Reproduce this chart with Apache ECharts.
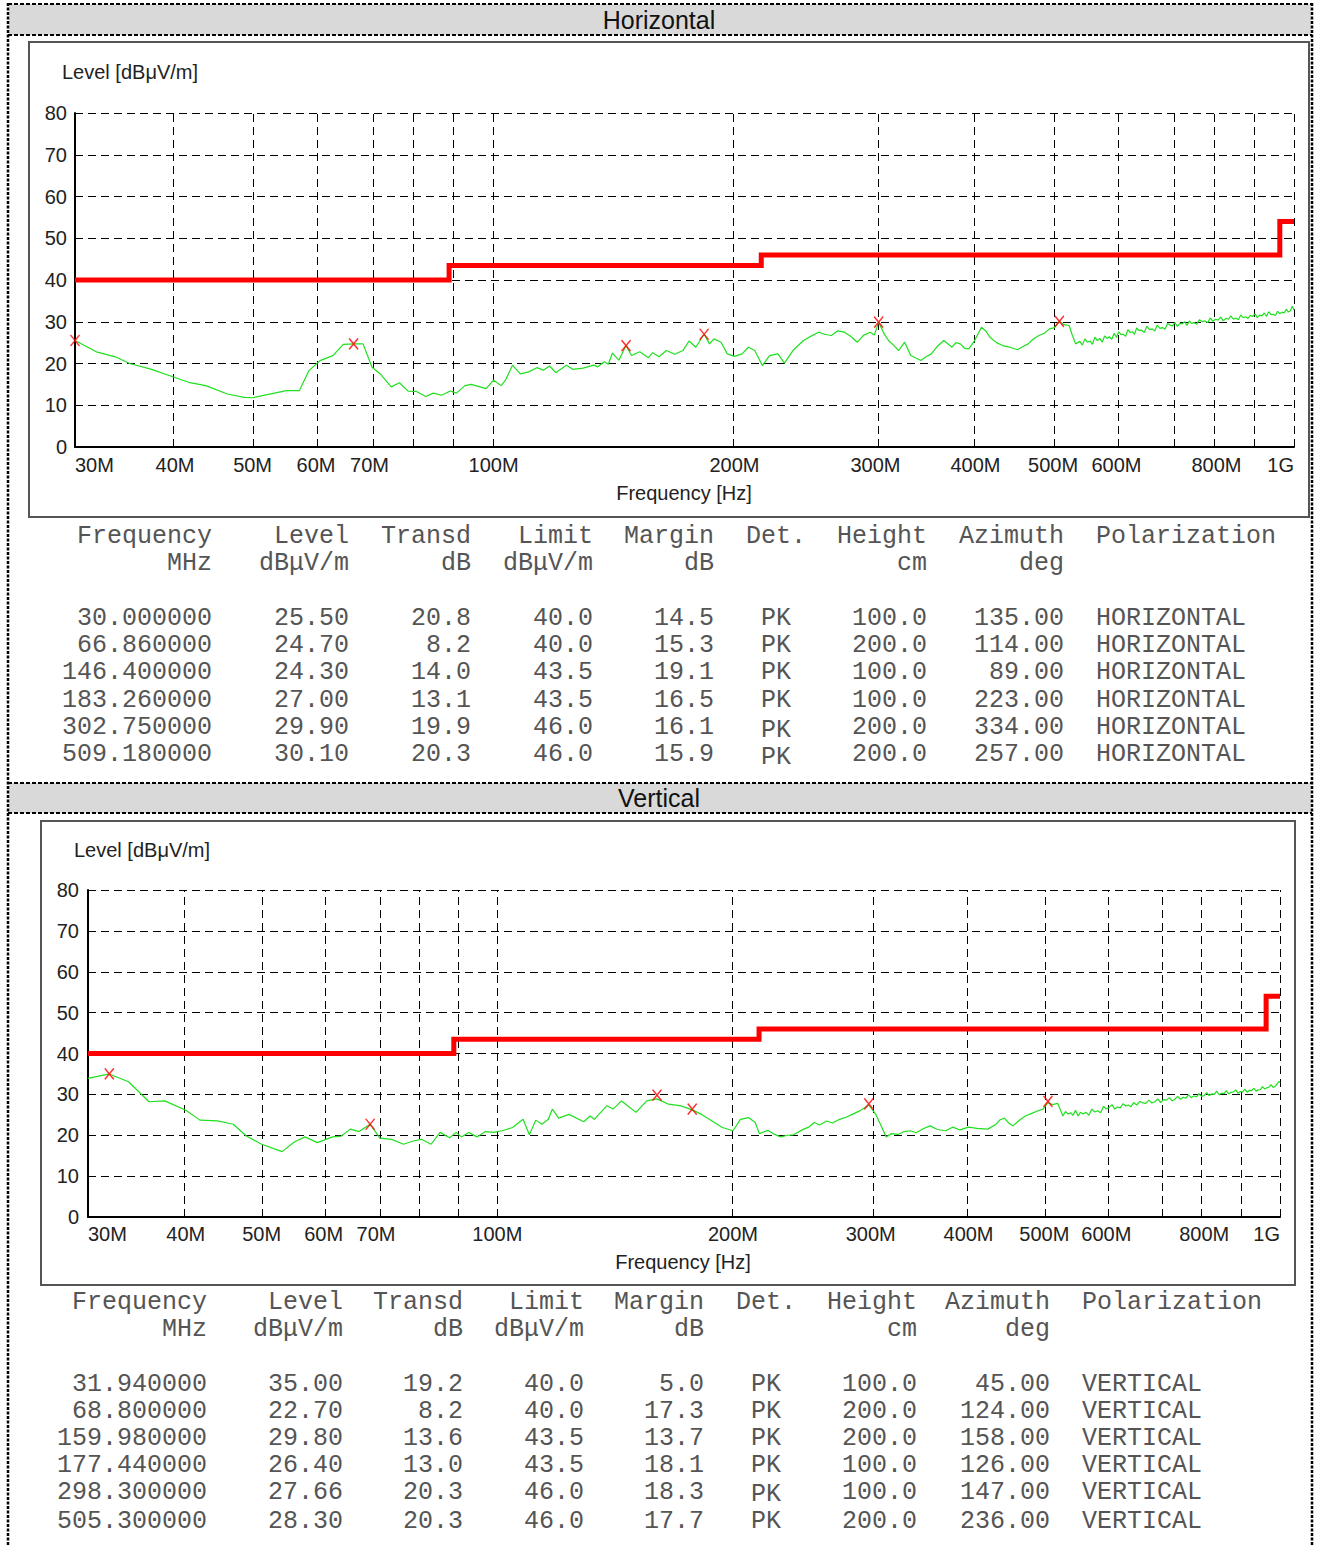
<!DOCTYPE html>
<html><head><meta charset="utf-8">
<script src="https://cdn.jsdelivr.net/npm/echarts@6/dist/echarts.min.js"></script>
<style>html,body{margin:0;padding:0;background:#fff}#c{width:1318px;height:1546px}</style>
</head><body><div id="c"></div>
<script>
// ---------- axis ticks ----------
const labelFreqs = [30, 40, 50, 60, 70, 100, 200, 300, 400, 500, 600, 800, 1000];
const gridFreqs = [40, 50, 60, 70, 80, 90, 100, 200, 300, 400, 500, 600, 700, 800, 900, 1000];
const levelMin = 0, levelMax = 80, levelStep = 10;

// ---------- limit line (dBuV/m) ----------
const limitFreq = [30, 88, 88, 216, 216, 960, 960, 1000];
const limitLevel = [40, 40, 43.5, 43.5, 46, 46, 54, 54];

// ---------- Horizontal trace ----------
const hTraceFreq = [30,31.9,33.7,35.1,37.4,39.9,41.6,43.7,46.5,48.8,50,55.1,57.2,58.8,60.7,63,64.9,66.9,68.7,70.5,72.2,74.5,76.3,78.2,80.1,82.3,84.1,86.1,88.3,89.9,92.1,93.8,97.9,100,102.2,103.5,105.6,108,110.6,113.3,115.4,117.5,119.6,123.3,125.6,129.4,133.4,135,137.5,139.1,140.8,143.4,146.4,148.7,152.3,156.1,158,161,164.4,168.4,172.4,175.5,178.9,183.3,186.1,188.5,192.4,195.9,200,204.4,208.2,212,216.7,221.2,226.6,230.9,236.6,243.9,249,254.8,259,264.3,269,274.4,279,284.8,290,295.7,299,302.75,307,311.5,316,320.6,326.3,332.1,337,342,347,352.3,358,365.2,370,374,378,383,388,392.4,399,407,412,417,425,432.5,440,451.4,458,465.5,472,480,487,495,502,509.18,516,523.7,528,533.5,
  540,544,548,552,556,560,564,568,572,576,580,584,588,592,596,600,604,608,612,616,620,624,628,632,636,640,645,650,655,660,665,670,675,680,685,690,695,700,705,710,715,720,725,730,735,740,745,750,756,762,768,774,780,786,792,798,804,810,816,822,828,834,840,846,852,858,864,870,876,882,888,894,900,906,912,918,924,930,936,942,948,954,960,966,972,978,984,990,995,1000];
const hTraceLevel = [25.5,22.8,21.6,20.0,18.6,16.7,15.5,14.7,12.7,11.9,11.8,13.5,13.5,18.3,20.7,21.9,24.6,24.7,24.7,19.1,17.5,14.4,15.4,13.4,13.3,12.1,12.9,12.4,13.4,12.9,14.7,15.0,14.0,16.0,14.7,16.0,19.6,17.5,18.0,19.0,18.4,19.4,17.8,19.6,18.6,18.9,19.6,19.2,20.4,19.8,22.5,20.8,24.3,21.9,22.8,21.4,22.6,21.6,23.1,22.2,23.1,25.4,23.9,27.0,24.7,25.9,25.1,22.3,21.7,22.3,23.9,23.1,19.5,21.9,22.3,20.1,23.1,25.5,26.5,27.5,27.0,26.7,27.8,27.5,26.6,25.1,26.8,27.5,26.8,29.9,27.4,25.5,24.4,23.1,25.1,21.9,21.3,20.7,21.6,22.3,24.0,25.5,24.6,23.9,25.0,24.7,23.6,23.5,25.5,28.7,27.8,26.3,25.0,24.3,24.0,23.3,24.0,24.7,25.8,26.7,27.2,28.3,28.6,30.1,29.3,29.1,27.0,24.7,
  25.3,24.4,25.9,25.1,25.4,24.6,26.3,25.5,26.0,25.1,26.6,26.0,26.4,25.8,27.2,26.3,27.6,26.9,27.0,26.5,28.1,27.4,27.6,27.0,28.5,27.9,28.0,27.4,28.9,28.1,28.3,27.8,29.2,28.4,28.6,28.2,29.6,29.2,29.0,29.8,28.9,29.6,29.5,30.0,29.1,30.2,29.6,29.8,29.4,30.5,30.0,30.2,29.8,30.9,30.1,30.6,30.4,31.1,30.2,30.8,30.6,31.4,30.6,30.9,30.5,31.6,31.0,31.2,30.8,31.5,31.3,31.9,31.0,31.6,31.4,32.1,31.3,32.4,31.7,31.8,31.5,32.5,31.9,32.3,32.1,33.0,32.3,32.7,33.7,32.8];

// ---------- Vertical trace ----------
const vTraceFreq = [30,31.94,32.4,33.8,35.9,37.6,40,41.7,43.9,46.0,47.8,50,53.1,55.1,56.8,58.9,61.6,63.2,64.9,66.6,68.8,70.8,73.3,75.9,78.1,80,82.3,84.5,86.9,88.6,90,91.9,94.2,96.6,98.9,101.4,104.6,107.9,109.9,112,114,116.2,117.6,119.8,123.5,129,131.4,133,138,140.6,144.1,146.7,150.4,155.2,159.98,165.5,171.7,177.44,182.4,188.1,193.9,200,204.5,209.6,213.6,216.2,221.6,225,230.1,235,238.9,246.3,250,254.1,258,263.7,268,273.8,279,284.1,290,295,298.3,304.5,309,314,319,325.3,331,337,343,350,357.3,365,374.1,382,390,400,410,423.3,433.9,439,444.7,450,455.8,464,472.9,481,490.6,498,505.3,512,
  520,524,528,532,536,540,544,548,552,556,560,565,570,575,580,585,590,595,600,605,610,615,620,625,630,635,640,645,650,656,662,668,674,680,686,692,698,704,710,716,722,728,734,740,746,752,758,764,770,776,782,788,794,800,806,812,818,824,830,836,842,848,854,860,866,872,878,884,890,896,902,908,914,920,926,932,938,944,950,956,962,968,974,980,986,992,997,1000];
const vTraceLevel = [33.9,35.0,34.5,33.1,28.2,28.4,26.1,23.7,23.5,22.7,19.8,17.8,16.0,18.4,19.6,18.2,19.6,19.8,21.5,20.9,22.7,19.3,19.0,17.8,18.6,19.0,17.8,20.7,19.4,20.7,19.6,20.7,19.6,20.9,20.7,21.1,21.9,23.9,20.1,23.7,22.7,23.9,26.4,24.2,25.1,23.3,24.7,23.9,27.2,26.4,28.4,27.2,25.6,28.4,28.9,27.6,27.2,26.2,25.1,23.5,21.9,21.1,23.9,24.3,23.1,20.4,21.2,20.4,19.6,20.0,20.1,21.5,22.0,23.1,22.5,23.5,23.0,23.9,24.4,25.1,25.9,26.8,27.4,25.1,22.5,19.6,20.4,20.2,20.9,21.1,20.6,21.6,22.3,21.4,21.1,22.0,21.3,22.0,21.7,21.5,22.7,23.8,24.2,23.0,22.3,23.6,24.7,25.3,26.0,26.4,28.0,27.5,
  27.8,26.3,24.7,25.8,25.2,25.5,24.9,26.1,24.7,25.6,25.2,25.6,24.9,26.4,25.7,26.0,25.5,27.1,26.4,26.8,27.5,26.4,26.9,26.7,27.7,27.2,27.4,27.0,28.0,27.4,28.3,27.9,27.8,28.6,27.9,28.2,28.9,28.0,28.7,28.6,29.2,28.4,28.8,29.5,28.8,29.3,29.1,29.9,29.2,29.6,29.4,30.2,29.5,29.7,30.4,29.7,30.1,30.0,30.8,29.9,30.3,30.2,30.9,30.1,30.5,30.6,31.1,30.3,30.7,30.6,31.3,30.5,31.0,30.9,31.5,30.8,31.1,31.2,31.9,31.3,31.6,31.8,32.4,31.7,32.0,32.6,33.2,32.9];

// ---------- Horizontal final results ----------
const hFreq = [30.000000, 66.860000, 146.400000, 183.260000, 302.750000, 509.180000];
const hLevel = [25.50, 24.70, 24.30, 27.00, 29.90, 30.10];
const hTransd = [20.8, 8.2, 14.0, 13.1, 19.9, 20.3];
const hLimit = [40.0, 40.0, 43.5, 43.5, 46.0, 46.0];
const hMargin = [14.5, 15.3, 19.1, 16.5, 16.1, 15.9];
const hDet = ['PK', 'PK', 'PK', 'PK', 'PK', 'PK'];
const hHeight = [100.0, 200.0, 100.0, 100.0, 200.0, 200.0];
const hAzimuth = [135.00, 114.00, 89.00, 223.00, 334.00, 257.00];
const hPol = ['HORIZONTAL', 'HORIZONTAL', 'HORIZONTAL', 'HORIZONTAL', 'HORIZONTAL', 'HORIZONTAL'];

// ---------- Vertical final results ----------
const vFreq = [31.940000, 68.800000, 159.980000, 177.440000, 298.300000, 505.300000];
const vLevel = [35.00, 22.70, 29.80, 26.40, 27.66, 28.30];
const vTransd = [19.2, 8.2, 13.6, 13.0, 20.3, 20.3];
const vLimit = [40.0, 40.0, 43.5, 43.5, 46.0, 46.0];
const vMargin = [5.0, 17.3, 13.7, 18.1, 18.3, 17.7];
const vDet = ['PK', 'PK', 'PK', 'PK', 'PK', 'PK'];
const vHeight = [100.0, 200.0, 200.0, 100.0, 100.0, 200.0];
const vAzimuth = [45.00, 124.00, 158.00, 126.00, 147.00, 236.00];
const vPol = ['VERTICAL', 'VERTICAL', 'VERTICAL', 'VERTICAL', 'VERTICAL', 'VERTICAL'];

const headRow1 = ['Frequency', 'Level', 'Transd', 'Limit', 'Margin', 'Det.', 'Height', 'Azimuth', 'Polarization'];
const headRow2 = ['MHz', 'dB\u03bcV/m', 'dB', 'dB\u03bcV/m', 'dB', '', 'cm', 'deg', ''];

// ---------- build ----------
const LOG = v => Math.log10(v);
const pairs = (fs, ls) => fs.map((f, i) => [LOG(f), ls[i]]);
const fmtFreq = v => { const f = Math.round(Math.pow(10, v)); return f >= 1000 ? (f / 1000) + 'G' : f + 'M'; };
const SANS = '"Liberation Sans", Arial, sans-serif';
const MONO = '"Liberation Mono", "Courier New", monospace';
const TABLE_COLOR = '#555';

const panels = [
  { grid: { left: 75, top: 113, width: 1219, height: 334 }, trace: [hTraceFreq, hTraceLevel], marks: [hFreq, hLevel], xMargin: 8, yMargin: 8 },
  { grid: { left: 88, top: 890, width: 1192, height: 327 }, trace: [vTraceFreq, vTraceLevel], marks: [vFreq, vLevel], xMargin: 7, yMargin: 9 }
];

const grids = [], xAxes = [], yAxes = [], series = [];
panels.forEach((p, i) => {
  grids.push(Object.assign({ containLabel: false, outerBoundsMode: 'none', show: false }, p.grid));
  xAxes.push({
    gridIndex: i, type: 'value', min: LOG(labelFreqs[0]), max: LOG(labelFreqs[labelFreqs.length - 1]),
    axisLine: { show: true, onZero: false, lineStyle: { color: '#000', width: 2 } },
    axisTick: { show: false }, splitLine: { show: false },
    axisLabel: {
      customValues: labelFreqs.map(LOG), formatter: fmtFreq,
      fontFamily: SANS, fontSize: 20, color: '#222', margin: p.xMargin,
      alignMinLabel: 'left', alignMaxLabel: 'right', hideOverlap: false
    }
  });
  yAxes.push({
    gridIndex: i, type: 'value', min: levelMin, max: levelMax, interval: levelStep,
    axisLine: { show: true, lineStyle: { color: '#000', width: 2 } },
    axisTick: { show: false },
    splitLine: { show: true, lineStyle: { color: '#000', width: 1, type: [8, 5] } },
    axisLabel: { fontFamily: SANS, fontSize: 20, color: '#222', margin: p.yMargin }
  });
  series.push({
    type: 'line', xAxisIndex: i, yAxisIndex: i, z: 3, clip: false, silent: true,
    data: pairs(limitFreq, limitLevel), symbol: 'none',
    lineStyle: { color: '#ff0000', width: 5, join: 'miter' }
  });
  series.push({
    type: 'line', xAxisIndex: i, yAxisIndex: i, z: 4, silent: true,
    data: pairs(p.trace[0], p.trace[1]), symbol: 'none',
    lineStyle: { color: '#1fe01f', width: 1.2 },
    markLine: {
      silent: true, symbol: 'none', z: 1, animation: false,
      label: { show: false },
      lineStyle: { color: '#000', width: 1, type: [8, 5] },
      data: gridFreqs.map(f => ({ xAxis: LOG(f) }))
    }
  });
  series.push({
    type: 'scatter', xAxisIndex: i, yAxisIndex: i, z: 5, silent: true,
    data: pairs(p.marks[0], p.marks[1]),
    symbol: 'path://M0,0L8,10M8,0L0,10', symbolSize: [9, 11],
    itemStyle: { color: 'rgba(0,0,0,0)', borderColor: '#ff0000', borderWidth: 1.5 }
  });
});

// ---------- graphic: frames, headers, tables ----------
const g = [];
const dashed = { stroke: '#000', lineWidth: 2, lineDash: [4, 2] };
g.push({ type: 'line', shape: { x1: 8, y1: 3, x2: 8, y2: 1546 }, style: { stroke: '#000', lineWidth: 2.5, lineDash: [3, 1.5] } });
g.push({ type: 'line', shape: { x1: 1312, y1: 3, x2: 1312, y2: 1546 }, style: { stroke: '#000', lineWidth: 2.5, lineDash: [3, 1.5] } });
function band(y0, y1, label) {
  g.push({ type: 'rect', shape: { x: 9, y: y0, width: 1302, height: y1 - y0 }, style: { fill: '#d9d9d9' }, z: -1 });
  g.push({ type: 'line', shape: { x1: 8, y1: y0, x2: 1312, y2: y0 }, style: dashed });
  g.push({ type: 'line', shape: { x1: 8, y1: y1, x2: 1312, y2: y1 }, style: dashed });
  g.push({ type: 'text', x: 659, y: (y0 + y1) / 2, style: { text: label, font: '25px ' + SANS, fill: '#111', align: 'center', verticalAlign: 'middle' } });
}
band(4, 35, 'Horizontal');
band(783, 813, 'Vertical');
g.push({ type: 'rect', shape: { x: 29, y: 42, width: 1280, height: 475 }, style: { fill: 'none', stroke: '#555', lineWidth: 2 } });
g.push({ type: 'rect', shape: { x: 41, y: 821, width: 1254, height: 464 }, style: { fill: 'none', stroke: '#555', lineWidth: 2 } });
function txt(x, y, s, font, align) {
  g.push({ type: 'text', x: x, y: y, style: { text: s, font: font, fill: '#222', align: align || 'left', verticalAlign: 'middle' } });
}
txt(62, 72, 'Level [dB\u03bcV/m]', '20px ' + SANS);
txt(684, 493, 'Frequency [Hz]', '20px ' + SANS, 'center');
txt(74, 850, 'Level [dB\u03bcV/m]', '20px ' + SANS);
txt(683, 1262, 'Frequency [Hz]', '20px ' + SANS, 'center');

function table(cols, headY, rowY, d) {
  const font = '25px ' + MONO;
  const keys = ['freq', 'level', 'transd', 'limit', 'margin', 'det', 'height', 'azimuth', 'pol'];
  const leftKeys = { det: 1, pol: 1 };
  const put = (k, y, s) => g.push({ type: 'text', x: cols[k], y: y, style: { text: s, font: font, fill: TABLE_COLOR, align: leftKeys[k] ? 'left' : 'right', verticalAlign: 'middle' } });
  keys.forEach((k, j) => { put(k, headY[0], headRow1[j]); if (headRow2[j]) put(k, headY[1], headRow2[j]); });
  d.freq.forEach((f, r) => {
    const y = rowY[r];
    put('freq', y, f.toFixed(6));
    put('level', y, d.level[r].toFixed(2));
    put('transd', y, d.transd[r].toFixed(1));
    put('limit', y, d.limit[r].toFixed(1));
    put('margin', y, d.margin[r].toFixed(1));
    g.push({ type: 'text', x: cols.det + 15, y: y + d.detDy[r], style: { text: d.det[r], font: font, fill: TABLE_COLOR, align: 'left', verticalAlign: 'middle' } });
    put('height', y, d.height[r].toFixed(1));
    put('azimuth', y, d.azimuth[r].toFixed(2));
    put('pol', y, d.pol[r]);
  });
}
table({ freq: 212, level: 349, transd: 471, limit: 593, margin: 714, det: 746, height: 927, azimuth: 1064, pol: 1096 },
  [536, 563], [618, 645, 672, 700, 727, 754],
  { freq: hFreq, level: hLevel, transd: hTransd, limit: hLimit, margin: hMargin, det: hDet, detDy: [0, 0, 0, 0, 3, 3], height: hHeight, azimuth: hAzimuth, pol: hPol });
table({ freq: 207, level: 343, transd: 463, limit: 584, margin: 704, det: 736, height: 917, azimuth: 1050, pol: 1082 },
  [1302, 1329], [1384, 1411, 1438, 1465, 1492, 1521],
  { freq: vFreq, level: vLevel, transd: vTransd, limit: vLimit, margin: vMargin, det: vDet, detDy: [0, 0, 0, 0, 2, 0], height: vHeight, azimuth: vAzimuth, pol: vPol });

const chart = echarts.init(document.getElementById('c'), null, { renderer: 'svg', width: 1318, height: 1546 });
chart.setOption({
  animation: false,
  backgroundColor: '#ffffff',
  textStyle: { fontFamily: SANS },
  grid: grids, xAxis: xAxes, yAxis: yAxes, series: series,
  graphic: { elements: g }
});
</script></body></html>
